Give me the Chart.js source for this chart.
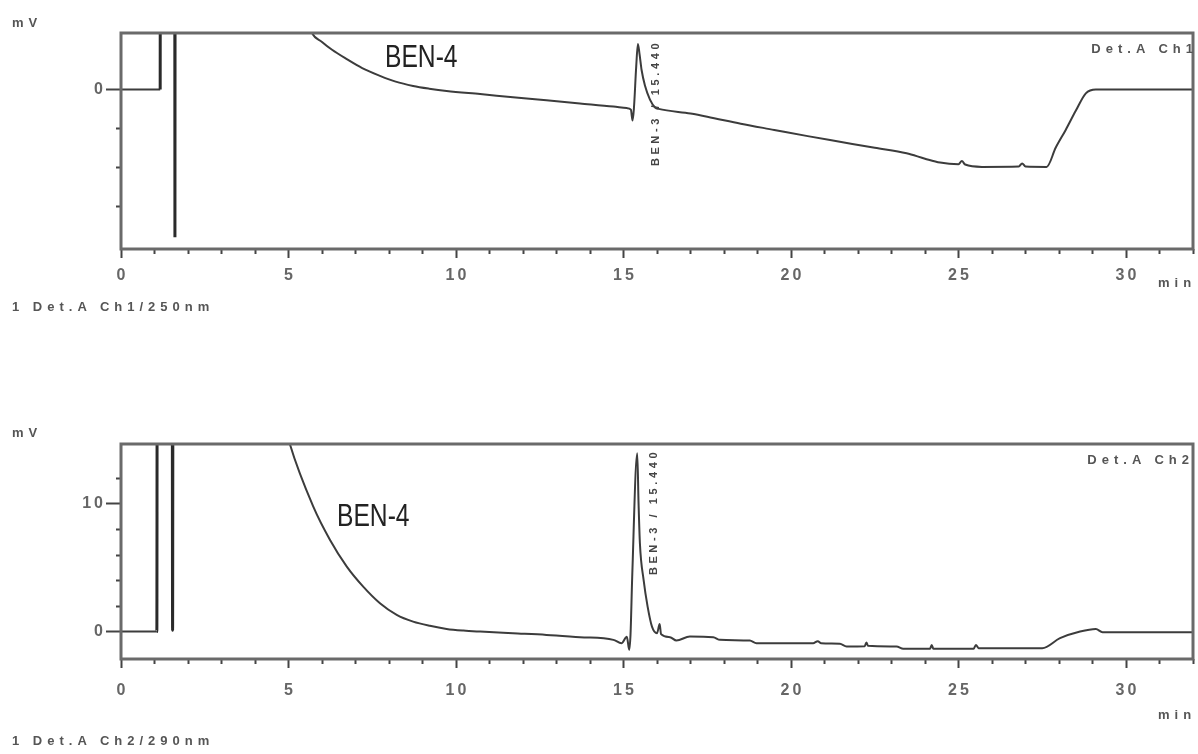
<!DOCTYPE html>
<html><head><meta charset="utf-8">
<script src="https://cdn.jsdelivr.net/npm/chart.js@4.4.1/dist/chart.umd.min.js"></script>
<style>
html,body{margin:0;padding:0;background:#fff;}
#wrap{position:relative;width:1198px;height:754px;overflow:hidden;font-family:"Liberation Sans",Arial,sans-serif;}
canvas{position:absolute;left:0;}
.lbl{position:absolute;color:#555;font-weight:bold;font-size:13px;letter-spacing:5px;white-space:nowrap;line-height:1;}
.ben{position:absolute;color:#222;font-size:32px;line-height:1;transform-origin:0 0;transform:scaleX(0.77);white-space:nowrap;}
.vert{position:absolute;color:#444;font-size:11px;font-weight:bold;letter-spacing:3.6px;white-space:nowrap;line-height:1;transform:translate(-50%,-50%) rotate(-90deg);}
</style></head>
<body><div id="wrap">
<canvas id="c1" width="1198" height="377" style="top:0"></canvas>
<canvas id="c2" width="1198" height="377" style="top:377px"></canvas>
<div class="lbl" style="left:12px;top:16px">mV</div>
<div class="lbl" style="left:1158px;top:276px">min</div>
<div class="lbl" style="left:12px;top:300px">1 Det.A Ch1/250nm</div>
<div class="lbl" style="right:0px;top:42px">Det.A Ch1</div>
<div class="ben" style="left:385px;top:40px">BEN-4</div>
<div class="vert" style="left:655px;top:103px">BEN-3 / 15.440</div>
<div class="lbl" style="left:12px;top:426px">mV</div>
<div class="lbl" style="left:1158px;top:708px">min</div>
<div class="lbl" style="left:12px;top:734px">1 Det.A Ch2/290nm</div>
<div class="lbl" style="right:4px;top:453px">Det.A Ch2</div>
<div class="ben" style="left:337px;top:499px">BEN-4</div>
<div class="vert" style="left:653px;top:512px">BEN-3 / 15.440</div>
</div>
<script>
// ---- data (minutes, mV) ----
const timeCh1 = [0, 1.17, 1.19, 1.59, 1.61, 1.63, 4.2, 4.8, 5.3, 5.69, 6.0, 6.3, 6.74, 7.2, 7.73, 8.2, 8.72, 9.2, 9.72, 10.72, 11.7, 12.7, 13.7, 14.7, 15.1, 15.22, 15.27, 15.31, 15.38, 15.43, 15.48, 15.54, 15.64, 15.79, 15.95, 16.05, 17.0, 17.5, 18.5, 19.5, 20.5, 21.5, 22.5, 23.45, 24.0, 24.45, 25.0, 25.1, 25.2, 25.7, 26.8, 26.9, 27.0, 27.63, 27.9, 28.2, 28.5, 28.8, 29.1, 32];
const signalCh1 = [0, 0, 30, 30, -3.8, 30, 30, 6, 2.6, 1.47, 1.22, 1.02, 0.78, 0.55, 0.35, 0.2, 0.09, 0.02, -0.04, -0.12, -0.2, -0.28, -0.36, -0.44, -0.48, -0.52, -0.8, -0.5, 0.6, 1.17, 0.9, 0.5, 0.1, -0.26, -0.47, -0.5, -0.62, -0.7, -0.88, -1.04, -1.2, -1.35, -1.5, -1.64, -1.78, -1.88, -1.92, -1.84, -1.93, -1.99, -1.98, -1.9, -1.98, -1.99, -1.5, -1.04, -0.55, -0.1, 0.0, 0.0];
const timeCh2 = [0, 1.07, 1.09, 1.52, 1.54, 1.56, 3.6, 4.54, 5.04, 5.74, 6.24, 6.74, 7.23, 7.73, 8.23, 8.72, 9.22, 9.72, 10.22, 10.72, 11.7, 12.7, 13.7, 14.7, 14.94, 15.1, 15.17, 15.21, 15.26, 15.41, 15.45, 15.49, 15.6, 15.72, 15.85, 16.0, 16.08, 16.12, 16.39, 16.58, 16.98, 17.68, 17.88, 18.77, 18.97, 20.66, 20.8, 20.9, 21.46, 21.66, 22.2, 22.25, 22.3, 23.15, 23.35, 24.15, 24.2, 24.25, 25.45, 25.52, 25.6, 27.5, 28.03, 28.63, 29.1, 29.3, 32];
const signalCh2 = [0, 0, 60, 60, 0.1, 60, 60, 20, 14.7, 9.79, 7.18, 5.09, 3.52, 2.22, 1.31, 0.78, 0.45, 0.21, 0.08, 0.0, -0.13, -0.26, -0.44, -0.65, -0.91, -0.4, -1.43, -0.2, 4.3, 13.97, 10.0, 6.9, 4.05, 1.96, 0.39, -0.13, 0.6, -0.2, -0.44, -0.7, -0.39, -0.44, -0.65, -0.7, -0.91, -0.91, -0.75, -0.91, -0.96, -1.17, -1.15, -0.85, -1.12, -1.17, -1.35, -1.35, -1.05, -1.35, -1.35, -1.05, -1.3, -1.3, -0.52, 0.0, 0.2, -0.05, -0.05];
const xMajorTicks = [0, 5, 10, 15, 20, 25, 30];
const yLabelsCh1 = [0];
const yLabelsCh2 = [0, 10];

const framePlugin = {
  id: 'frame',
  beforeDraw(chart) { chart.ctx.letterSpacing = '3px'; },
  afterDraw(chart) {
    const ctx = chart.ctx, a = chart.chartArea;
    ctx.save();
    ctx.strokeStyle = '#6a6a6a';
    ctx.lineWidth = 3;
    ctx.strokeRect(a.left, a.top, a.right - a.left, a.bottom - a.top);
    ctx.restore();
  }
};

function makeChart(id, times, signals, yMin, yMax, yStep, yLabels, topPad, xAxisHeight, xPad) {
  const pts = times.map((t, i) => ({ x: t, y: signals[i] }));
  const tickFont = { family: 'Liberation Sans', size: 16, weight: 'bold' };
  const offScale = c => c.p0.parsed.y > yMax + 5 || c.p1.parsed.y > yMax + 5;
  return new Chart(document.getElementById(id), {
    type: 'line',
    data: { datasets: [{
      data: pts, borderColor: '#3c3c3c', borderWidth: 2, pointRadius: 0, fill: false, cubicInterpolationMode: 'monotone',
      segment: {
        borderWidth: c => offScale(c) ? 3 : 2,
        borderColor: c => offScale(c) ? '#2a2a2a' : '#3c3c3c'
      }
    }] },
    plugins: [framePlugin],
    options: {
      responsive: false, animation: false, devicePixelRatio: 1,
      layout: { padding: { top: topPad, right: 5, left: 0, bottom: 0 } },
      plugins: { legend: { display: false }, tooltip: { enabled: false } },
      scales: {
        x: {
          type: 'linear', min: 0, max: 32,
          border: { display: false },
          grid: {
            drawOnChartArea: false, drawTicks: true, tickLength: 9, tickColor: '#444', tickWidth: 2,
            tickBorderDash: c => (c.tick && xMajorTicks.includes(c.tick.value)) ? [] : [5, 100]
          },
          ticks: {
            stepSize: 1, autoSkip: false, maxRotation: 0, minRotation: 0, padding: xPad, color: '#666', font: tickFont,
            labelOffset: 1.5,
            callback: v => xMajorTicks.includes(v) ? String(v) : ''
          },
          afterFit: s => { s.height = xAxisHeight; s.paddingLeft = 0; s.paddingRight = 0; }
        },
        y: {
          type: 'linear', min: yMin, max: yMax,
          border: { display: false },
          grid: {
            drawOnChartArea: false, drawTicks: true, tickLength: 15, tickColor: '#444', tickWidth: 2,
            tickBorderDash: c => (c.tick && yLabels.includes(c.tick.value)) ? [] : [0, 10, 100]
          },
          ticks: {
            stepSize: yStep, padding: 0, color: '#666', font: tickFont,
            callback: v => yLabels.includes(v) ? String(v) : ''
          },
          afterBuildTicks: s => { s.ticks = s.ticks.filter(t => Math.abs(t.value / yStep - Math.round(t.value / yStep)) < 1e-9); },
          afterFit: s => { s.width = 121; s.paddingTop = 0; s.paddingBottom = 0; }
        }
      }
    }
  });
}

makeChart('c1', timeCh1, signalCh1, -4.1, 1.45, 1, yLabelsCh1, 33, 128, 8);
makeChart('c2', timeCh2, signalCh2, -2.15, 14.7, 2, yLabelsCh2, 67, 95, 13);
</script>
</body></html>
